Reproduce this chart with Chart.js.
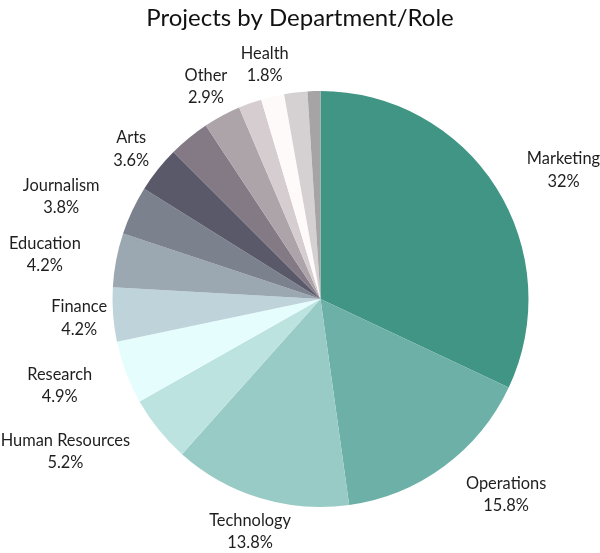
<!DOCTYPE html>
<html>
<head>
<meta charset="utf-8">
<script src="https://cdn.jsdelivr.net/npm/chart.js@4.4.1/dist/chart.umd.min.js"></script>
<style>
  html, body { margin: 0; padding: 0; background: #fff; }
  #wrap { width: 600px; height: 553px; }
</style>
</head>
<body>
<div id="wrap"><canvas id="deptChart" width="600" height="553"></canvas></div>
<script>
// share of projects per department, in percent (largest first)
const departments = [
  "Marketing", "Operations", "Technology", "Human Resources", "Research",
  "Finance", "Education", "Journalism", "Arts", "Sales", "Other",
  "Design", "Health", "Legal", "Consulting"
];
const shares = [32, 15.8, 13.8, 5.2, 4.9, 4.2, 4.2, 3.8, 3.6, 3.2, 2.9, 1.8, 1.8, 1.8, 1.0];
const sliceColors = [
  "#419585", "#6cb0a7", "#98cbc5", "#bde3e0", "#e6fdfe",
  "#bfd4da", "#9ba8b2", "#7b818d", "#5a5969", "#837a86",
  "#ada4aa", "#d6cdd1", "#fffafa", "#d5d1d3", "#a6a4a5"
];

const FONT = "Lato, 'Noto Sans', sans-serif";

// labels outside the pie: name + percent, skipped when they would overlap one already drawn
const outerLabels = {
  id: "outerLabels",
  afterDatasetsDraw(chart, args, opts) {
    const ctx = chart.ctx;
    const meta = chart.getDatasetMeta(0);
    const placed = [];
    ctx.save();
    ctx.font = opts.fontSize + "px " + FONT;
    ctx.fillStyle = opts.color;
    ctx.textAlign = "center";
    ctx.textBaseline = "middle";

    meta.data.forEach((arc, i) => {
      const p = arc.getProps(["x", "y", "startAngle", "endAngle", "outerRadius"], true);
      const mid = (p.startAngle + p.endAngle) / 2;
      const r = p.outerRadius + opts.offset;
      const ax = p.x + Math.cos(mid) * r;
      const ay = p.y + Math.sin(mid) * r;
      const name = chart.data.labels[i];
      const lines = [name, chart.data.datasets[0].data[i] + "%"];
      const w = Math.max(...lines.map(t => ctx.measureText(t).width));
      const h = lines.length * opts.lineHeight;

      const dir = Math.cos(mid);
      let cx = ax;
      if (Math.abs(dir) >= 0.5 && !opts.centred.includes(name)) {
        cx = ax + Math.sign(dir) * (w / 2 + 2);
      }
      const box = { l: cx - w / 2 - 2, r: cx + w / 2 + 2, t: ay - h / 2, b: ay + h / 2 };
      const hit = placed.some(b => box.l < b.r && box.r > b.l && box.t < b.b && box.b > b.t);
      if (hit) return;
      placed.push(box);

      lines.forEach((t, k) => {
        ctx.fillText(t, cx, ay + 1 + (k - (lines.length - 1) / 2) * opts.lineHeight);
      });
    });

    // title, centred on the canvas
    ctx.font = opts.titleSize + "px " + FONT;
    ctx.fillStyle = opts.titleColor;
    ctx.textBaseline = "alphabetic";
    ctx.fillText(opts.title, chart.width / 2, 26);
    ctx.restore();
  }
};

new Chart(document.getElementById("deptChart"), {
  type: "pie",
  data: {
    labels: departments,
    datasets: [{
      label: "Projects",
      data: shares,
      backgroundColor: sliceColors,
      borderWidth: 0
    }]
  },
  options: {
    responsive: false,
    animation: false,
    events: [],
    layout: { padding: { top: 91, bottom: 46, left: 112, right: 71 } },
    plugins: {
      legend: { display: false },
      tooltip: { enabled: false },
      title: { display: false },
      outerLabels: {
        fontSize: 16.4,
        lineHeight: 22.5,
        offset: 34,
        color: "#1e1e1e",
        centred: ["Finance", "Arts"],
        title: "Projects by Department/Role",
        titleSize: 24,
        titleColor: "#111"
      }
    }
  },
  plugins: [outerLabels]
});
</script>
</body>
</html>
